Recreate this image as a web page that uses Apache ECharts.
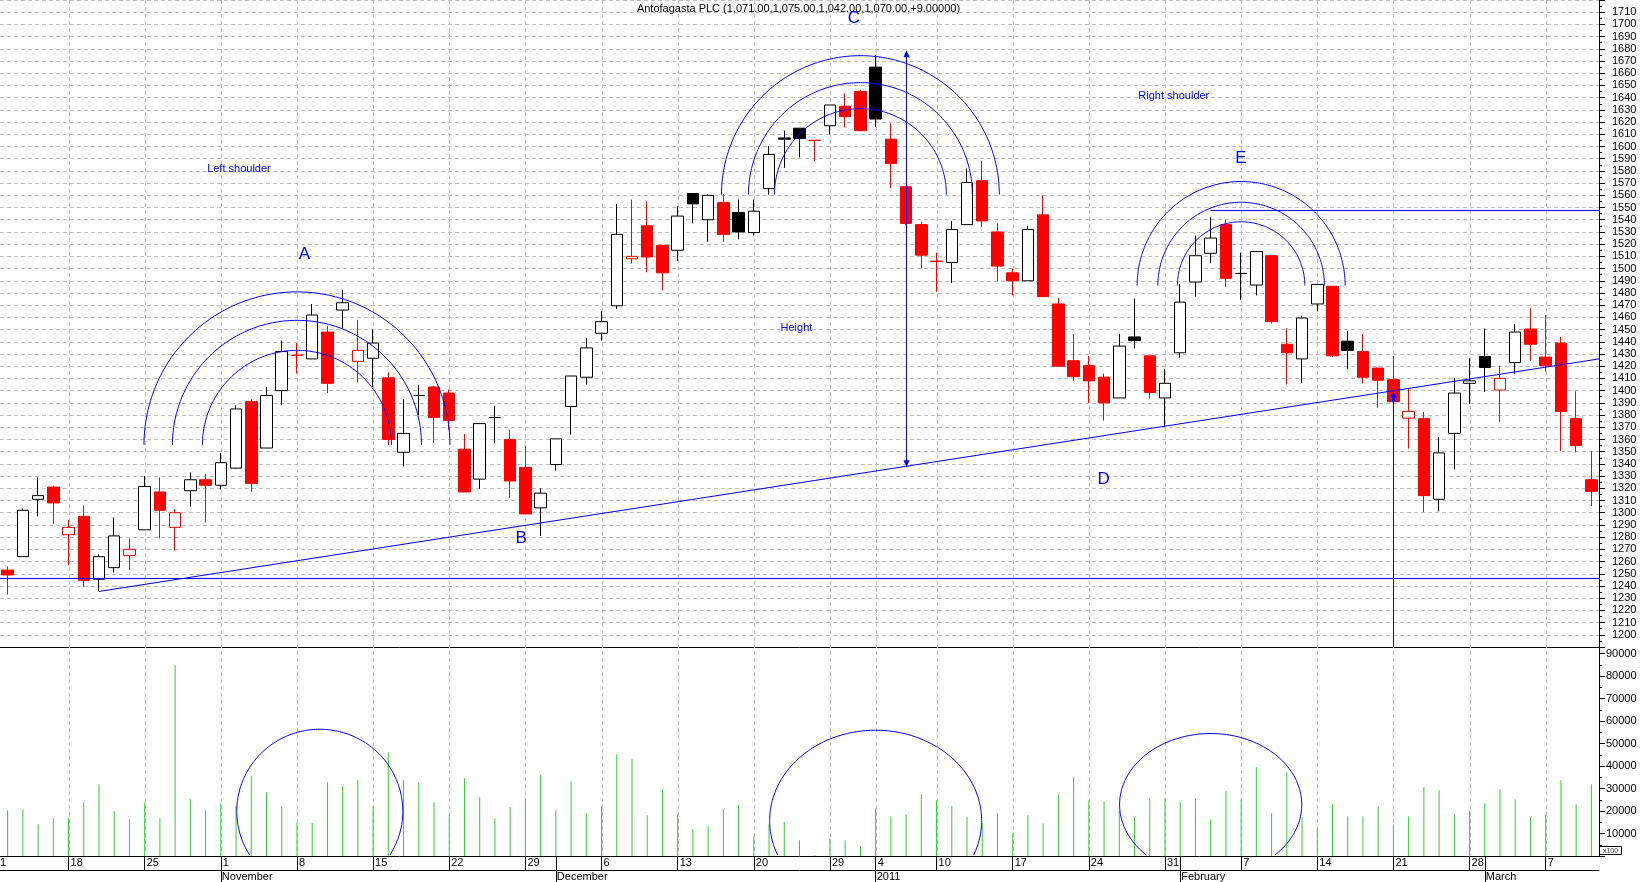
<!DOCTYPE html>
<html><head><meta charset="utf-8">
<script src="https://cdn.jsdelivr.net/npm/echarts@6/dist/echarts.min.js"></script>
<style>html,body{margin:0;padding:0;background:#fff;}#c{width:1642px;height:882px;}</style>
</head><body><div id="c"></div>
<script>
const dates = [
'2010-10-12','2010-10-13','2010-10-14','2010-10-15','2010-10-18','2010-10-19','2010-10-20','2010-10-21','2010-10-22','2010-10-25','2010-10-26','2010-10-27','2010-10-28','2010-10-29',
'2010-11-01','2010-11-02','2010-11-03','2010-11-04','2010-11-05','2010-11-08','2010-11-09','2010-11-10','2010-11-11','2010-11-12','2010-11-15','2010-11-16','2010-11-17','2010-11-18','2010-11-19','2010-11-22','2010-11-23','2010-11-24','2010-11-25','2010-11-26','2010-11-29','2010-11-30',
'2010-12-01','2010-12-02','2010-12-03','2010-12-06','2010-12-07','2010-12-08','2010-12-09','2010-12-10','2010-12-13','2010-12-14','2010-12-15','2010-12-16','2010-12-17','2010-12-20','2010-12-21','2010-12-22','2010-12-23','2010-12-24','2010-12-29','2010-12-30','2010-12-31',
'2011-01-04','2011-01-05','2011-01-06','2011-01-07','2011-01-10','2011-01-11','2011-01-12','2011-01-13','2011-01-14','2011-01-17','2011-01-18','2011-01-19','2011-01-20','2011-01-21','2011-01-24','2011-01-25','2011-01-26','2011-01-27','2011-01-28','2011-01-31',
'2011-02-01','2011-02-02','2011-02-03','2011-02-04','2011-02-07','2011-02-08','2011-02-09','2011-02-10','2011-02-11','2011-02-14','2011-02-15','2011-02-16','2011-02-17','2011-02-18','2011-02-21','2011-02-22','2011-02-23','2011-02-24','2011-02-25','2011-02-28',
'2011-03-01','2011-03-02','2011-03-03','2011-03-04','2011-03-07','2011-03-08','2011-03-09','2011-03-10'];

const opens = [1253,1264,1311,1321,1282,1297,1245.5,1255,1265,1286,
1317,1288,1318,1327,1322.5,1336.5,1391,1353,1400,1429,
1426,1448,1466,1424,1426.5,1410.5,1349.5,1396,1403,1398,
1352,1327.5,1378,1360,1337,1304,1339.5,1387,1411,1447,
1469.5,1508,1535,1519,1515,1561.5,1540,1554,1546,1529.5,
1565.5,1607,1615,1605,1617,1633,1645,1665,1606,1567,
1536,1506,1505,1536,1572,1530,1496.5,1490,1544,1471,
1424.5,1420.5,1411,1394,1444,1428.5,1394,1431,1489,1512.5,
1536,1496,1486.5,1510.5,1438,1426,1471,1485.5,1440.5,1432,
1418.5,1409,1377.5,1377,1311,1365,1406,1428,1400.5,1423,
1450.5,1427.5,1439,1377,1327];

const closes = [1249,1302,1314,1308,1288,1244.5,1264,1281,1270,1321.5,
1302,1300,1327,1322.5,1341,1385,1324,1396,1432,1429,
1462,1406,1472,1433,1439,1360,1365,1396,1378,1375.5,
1317,1373,1378,1326,1299,1316,1360.5,1412,1435,1456.5,
1528,1510,1509.5,1496.5,1543,1553,1560,1528,1530,1547,
1593.5,1606,1606.5,1605,1634,1624.5,1613,1622.5,1586,1537,
1511,1506,1532,1570.5,1539,1502,1490,1532,1477,1420,
1411.5,1408,1390,1436.5,1441,1398.5,1406,1472.5,1510.5,1525,
1492,1496,1514,1456.5,1431,1459.5,1487,1428.5,1433,1411,
1408.5,1391,1383,1314,1349,1398,1408,1419,1410,1448,
1438,1420.5,1383,1355,1317.5];

const lows = [1233,1264,1297,1291,1257,1239,1235.5,1251,1253,1286,
1279,1269,1305,1292,1319,1336,1317,1353,1388,1414,
1426,1398,1451,1407,1403,1355.5,1338,1380,1357,1368,
1317,1319.5,1357,1312,1299,1281,1334.5,1364,1405,1441,
1467,1504,1497,1482,1506,1537,1522,1522,1524,1527,
1560.5,1582.5,1591,1588,1610,1615.5,1613,1616,1566,1536,
1500,1481,1488,1536,1534,1490,1478,1490,1477,1420,
1408,1390,1375.5,1394,1434.5,1393.5,1370.5,1427,1477,1504.5,
1485,1474.5,1478,1455,1405,1406,1465,1427.5,1417.5,1406,
1386,1387,1352.5,1300.5,1301,1335.5,1389,1399,1374.5,1413.5,
1424.5,1415.5,1350.5,1349.5,1305.5];

const highs = [1256,1303.5,1329,1322,1294,1306,1266,1296,1279,1330,
1329,1303,1333,1332,1349,1388,1393,1403,1441,1439,
1471,1453,1482.5,1458,1450,1415,1393,1404.5,1404,1401,
1364.5,1373,1387.5,1368,1355,1320,1360.5,1412,1443,1465,
1553,1556.5,1555,1519,1551,1561.5,1561,1561,1556.5,1556.5,
1600.5,1613,1615,1605,1634,1643.5,1646.5,1675,1619,1567.5,
1538.5,1513,1539,1582,1588,1537,1500,1535,1560,1476,
1446.5,1428.5,1414,1446.5,1475.5,1428.5,1417.5,1487.5,1527,1542,
1540,1513,1514,1510.5,1451,1461.5,1487,1485.5,1449,1446.5,
1418.5,1428.5,1402,1382.5,1362,1410.5,1426.5,1451,1420.5,1454.5,
1467.5,1462,1444,1399.5,1350.5];

const volumes = [20350,20800,14130,16800,16800,23900,31900,19900,16350,23900,
16800,84800,25240,20350,23600,22270,35600,28350,22130,14700,
14700,32800,31150,33700,22130,46130,33700,32800,23900,18580,
34600,26130,16800,21700,25240,35900,20350,33240,19020,22130,
45240,43020,18130,29690,18580,11910,13240,20800,22580,8800,
14130,15020,7020,300,7780,7020,4360,21240,17690,18580,
27460,24800,22130,17240,14580,19020,10130,18130,14580,27460,
35020,24800,24350,20040,17240,25690,25690,23900,25690,16350,
28800,25240,39460,19020,37240,17240,12350,23020,17690,17690,
22130,14130,17690,30580,29240,18580,19900,23460,29690,25240,
17240,18280,33700,23020,31900];

const weekStarts = ['2010-10-18','2010-10-25','2010-11-01','2010-11-08','2010-11-15','2010-11-22','2010-11-29',
'2010-12-06','2010-12-13','2010-12-20','2010-12-29','2011-01-04','2011-01-10','2011-01-17','2011-01-24','2011-01-31',
'2011-02-07','2011-02-14','2011-02-21','2011-02-28','2011-03-07'];
const monthStarts = ['2010-11-01','2010-12-01','2011-01-04','2011-02-01','2011-03-01'];
const monthLabels = ['November','December','2011','February','March'];

const titleText = 'Antofagasta PLC (1,071.00,1,075.00,1,042.00,1,070.00,+9.00000)';

// annotations (data coordinates: [bar index, price] / [bar index, volume])
const trendLine = [[6, 1235.5], [104.5, 1426]];
const supportLevel = 1246.5;
const targetLevel = {from: 79, to: 104.5, price: 1548};
const heightArrow = {at: 59, from: 1338, to: 1678};
const breakArrow = {at: 91, from: 1190, to: 1398};
const priceArcs = [
  {center: [19.0, 1355.6], radii: [125.3, 102, 77.4]},
  {center: [56.0, 1560.6], radii: [113.8, 91.7, 70.4]},
  {center: [81.0, 1486.1], radii: [85.2, 68.2, 52.2]}
];
const volumeEllipses = [
  {center: [20.5, 19900], rx: 5.45, ry: 36440},
  {center: [57.0, 15730], rx: 6.96, ry: 40180},
  {center: [79.0, 22840], rx: 5.98, ry: 31600}
];
const notes = [
  {text: 'Left shoulder', at: [15.19, 1581.8], size: 11},
  {text: 'A', at: [19.49, 1511.6], size: 17},
  {text: 'B', at: [33.72, 1279.3], size: 17},
  {text: 'C', at: [55.57, 1705.4], size: 17},
  {text: 'Height', at: [51.8, 1451.4], size: 11},
  {text: 'Right shoulder', at: [76.58, 1641], size: 11},
  {text: 'E', at: [80.99, 1590.3], size: 17},
  {text: 'D', at: [71.97, 1327.1], size: 17}
];

const FONT = '"Liberation Sans", Arial, sans-serif';
const RED = '#ff0000', BLK = '#000000', WHITE = '#ffffff', BLUE = '#0000ff', GRID = '#c0c0c0';

const candleData = dates.map((d, i) => {
  const o = opens[i], c = closes[i];
  const prev = i > 0 ? closes[i - 1] : o;
  const line = c >= prev ? BLK : RED;
  const fill = c > o ? WHITE : line;
  return {value: [o, c, lows[i], highs[i]],
    itemStyle: {color: fill, color0: fill, borderColor: line, borderColor0: line, borderColorDoji: line}};
});

const axisLineBlack = {show: true, onZero: false, lineStyle: {color: BLK, width: 1}};

const option = {
  animation: false,
  backgroundColor: '#ffffff',
  textStyle: {fontFamily: FONT},
  grid: [
    {left: 0, right: 43, top: 0, height: 647, containLabel: false, outerBoundsMode: 'none'},
    {left: 0, right: 43, top: 647, height: 209, containLabel: false, outerBoundsMode: 'none'}
  ],
  xAxis: [
    {type: 'category', gridIndex: 0, data: dates, boundaryGap: true, axisLine: axisLineBlack,
     axisTick: {show: false}, axisLabel: {show: false}, splitLine: {show: false}},
    {type: 'category', gridIndex: 1, data: dates, boundaryGap: true, position: 'bottom', axisLine: axisLineBlack,
     axisTick: {show: true, alignWithLabel: true, length: 14, lineStyle: {color: BLK},
       interval: (i, v) => weekStarts.includes(v) || monthStarts.includes(v)},
     axisLabel: {show: true, interval: (i, v) => weekStarts.includes(v),
       formatter: v => String(parseInt(v.slice(8), 10)), align: 'left', padding: [0, 0, 0, 2], margin: 1,
       color: BLK, fontSize: 11, fontFamily: FONT},
     splitLine: {show: false}},
    {type: 'category', gridIndex: 1, data: dates, boundaryGap: true, position: 'bottom', offset: 14, axisLine: axisLineBlack,
     axisTick: {show: true, alignWithLabel: true, length: 13, lineStyle: {color: BLK},
       interval: (i, v) => monthStarts.includes(v)},
     axisLabel: {show: true, interval: (i, v) => monthStarts.includes(v),
       formatter: v => monthLabels[monthStarts.indexOf(v)], align: 'left', padding: [0, 0, 0, 1], margin: 1,
       color: BLK, fontSize: 11, fontFamily: FONT},
     splitLine: {show: false}}
  ],
  yAxis: [
    {type: 'value', gridIndex: 0, position: 'right', min: 1190, max: 1720, interval: 10,
     axisLine: {show: true, lineStyle: {color: BLK}},
     axisTick: {show: true, length: 6, lineStyle: {color: BLK}},
     minorTick: {show: true, splitNumber: 2, length: 3, lineStyle: {color: BLK}},
     axisLabel: {showMinLabel: false, showMaxLabel: false, margin: 13, color: BLK, fontSize: 11, fontFamily: FONT,
       formatter: v => String(v)},
     splitLine: {show: true, lineStyle: {color: GRID, type: [4, 3], width: 1}}},
    {type: 'value', gridIndex: 1, position: 'right', min: 0, max: 92900, interval: 10000,
     axisLine: {show: true, lineStyle: {color: BLK}},
     axisTick: {show: true, length: 6, lineStyle: {color: BLK}},
     minorTick: {show: true, splitNumber: 2, length: 3, lineStyle: {color: BLK}},
     axisLabel: {showMinLabel: false, showMaxLabel: false, margin: 7, color: BLK, fontSize: 11, fontFamily: FONT,
       formatter: v => String(v)},
     splitLine: {show: false}}
  ],
  series: [
    {type: 'candlestick', xAxisIndex: 0, yAxisIndex: 0, data: candleData, barWidth: 12, silent: true,
     itemStyle: {borderWidth: 1}},
    {type: 'bar', xAxisIndex: 1, yAxisIndex: 1, data: volumes, barWidth: 1, silent: true,
     itemStyle: {color: '#33cc33'}}
  ]
};

const chart = echarts.init(document.getElementById('c'), null, {renderer: 'canvas', width: 1642, height: 882});
chart.setOption(option);

const FP = {xAxisIndex: 0, yAxisIndex: 0}, FV = {xAxisIndex: 1, yAxisIndex: 1};
function px(finder, i, v) {
  const i0 = Math.floor(i), f = i - i0;
  const a = chart.convertToPixel(finder, [i0, v]);
  const b = chart.convertToPixel(finder, [i0 + 1, v]);
  return [a[0] + (b[0] - a[0]) * f, a[1]];
}
const crisp = v => Math.round(v) + 0.5;
const bw = px(FP, 1, 1500)[0] - px(FP, 0, 1500)[0];
const topY = px(FP, 0, 1720)[1];
const priceBottom = px(FP, 0, 1190)[1];
const volBottom = px(FV, 0, 0)[1];

const g = [];
// vertical dashed grid lines at week starts
weekStarts.forEach(ws => {
  const x = crisp(px(FP, dates.indexOf(ws), 1500)[0]);
  g.push({type: 'line', z: 1, silent: true, shape: {x1: x, y1: topY, x2: x, y2: volBottom - 1},
    style: {stroke: GRID, lineWidth: 1, lineDash: [4, 3]}});
});
const blueLine = (p1, p2, w) => ({type: 'line', z: 20, silent: true,
  shape: {x1: p1[0], y1: p1[1], x2: p2[0], y2: p2[1]}, style: {stroke: BLUE, lineWidth: w || 1}});
// support & target horizontals
const sy = crisp(px(FP, 0, supportLevel)[1]);
g.push(blueLine([px(FP, -0.5, 0)[0], sy], [px(FP, 104.5, 0)[0], sy]));
const ty = crisp(px(FP, 0, targetLevel.price)[1]);
g.push(blueLine([px(FP, targetLevel.from, 0)[0], ty], [px(FP, targetLevel.to, 0)[0], ty]));
// neckline
g.push(blueLine(px(FP, trendLine[0][0], trendLine[0][1]), px(FP, trendLine[1][0], trendLine[1][1])));
// height arrow
{
  const x = crisp(px(FP, heightArrow.at, 0)[0]);
  const yb = px(FP, 0, heightArrow.from)[1], yt = px(FP, 0, heightArrow.to)[1];
  g.push(blueLine([x, yt], [x, yb]));
  g.push({type: 'polygon', z: 20, silent: true, shape: {points: [[x, yt - 1], [x - 3, yt + 6], [x + 3, yt + 6]]}, style: {fill: BLUE}});
  g.push({type: 'polygon', z: 20, silent: true, shape: {points: [[x, yb + 1], [x - 3, yb - 6], [x + 3, yb - 6]]}, style: {fill: BLUE}});
}
// breakout arrow
{
  const x = crisp(px(FP, breakArrow.at, 0)[0]);
  const yt = px(FP, 0, breakArrow.to)[1];
  g.push(blueLine([x, yt], [x, priceBottom]));
  g.push({type: 'polygon', z: 20, silent: true, shape: {points: [[x, yt - 1], [x - 3.5, yt + 5], [x + 3.5, yt + 5]]}, style: {fill: BLUE}});
  g.push({type: 'rect', z: 20, silent: true, shape: {x: x - 1.5, y: yt + 4, width: 3, height: 5}, style: {fill: BLUE}});
}
function ellipsePts(cx, cy, rx, ry, yMax) {
  let t0 = Math.PI, t1 = 2 * Math.PI;
  if (yMax != null) {
    const d = (yMax - cy) / ry;
    if (d < 1) { const a = Math.asin(Math.max(-1, d)); t0 = Math.PI - a; t1 = 2 * Math.PI + a; }
    else { t0 = 0; t1 = 2 * Math.PI; }
  }
  const pts = [], n = 160;
  for (let k = 0; k <= n; k++) {
    const t = t0 + (t1 - t0) * k / n;
    pts.push([cx + rx * Math.cos(t), cy + ry * Math.sin(t)]);
  }
  return pts;
}
priceArcs.forEach(a => {
  const c = px(FP, a.center[0], a.center[1]);
  a.radii.forEach(r => {
    const rp = c[1] - px(FP, a.center[0], a.center[1] + r)[1];
    g.push({type: 'polyline', z: 20, silent: true, shape: {points: ellipsePts(c[0], c[1], rp, rp)},
      style: {stroke: BLUE, lineWidth: 1, fill: null}});
  });
});
volumeEllipses.forEach(e => {
  const c = px(FV, e.center[0], e.center[1]);
  const ryp = c[1] - px(FV, e.center[0], e.center[1] + e.ry)[1];
  g.push({type: 'polyline', z: 20, silent: true, shape: {points: ellipsePts(c[0], c[1], e.rx * bw, ryp, volBottom - 1)},
    style: {stroke: BLUE, lineWidth: 1, fill: null}});
});
const txt = (text, x, y, size, color, align) => ({type: 'text', z: 20, silent: true,
  style: {text: text, x: x, y: y, fill: color, font: size + 'px ' + FONT,
    align: align || 'center', verticalAlign: 'middle', textAlign: align || 'center', textVerticalAlign: 'middle'}});
notes.forEach(n => {
  const p = px(FP, n.at[0], n.at[1]);
  g.push(txt(n.text, p[0], p[1], n.size, BLUE));
});
g.push(txt(titleText, 798.5, 8.5, 11, BLK));
g.push(txt('1', 0, volBottom + 7, 11, BLK, 'left'));
// x100 multiplier box
g.push({type: 'rect', z: 20, silent: true, shape: {x: 1599.5, y: 846.5, width: 22, height: 8}, style: {stroke: BLK, fill: WHITE, lineWidth: 1}});
g.push(txt('x100', 1610.5, 850.8, 7, '#333333'));

chart.setOption({graphic: {elements: g}});
</script>
</body></html>
